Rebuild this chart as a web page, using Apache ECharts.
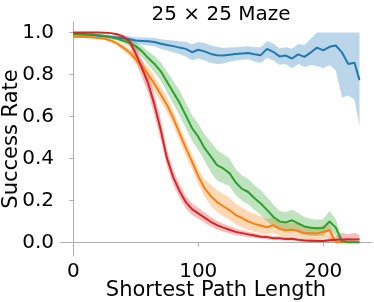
<!DOCTYPE html>
<html><head><meta charset="utf-8">
<script src="https://cdn.jsdelivr.net/npm/echarts@6/dist/echarts.min.js"></script>
<style>html,body{margin:0;padding:0;background:#fff}#c{width:374px;height:302px}</style>
</head><body><div id="c"></div>
<script>
const xs = [0,5,10,15,20,25,30,35,40,45,50,55,60,65,70,75,80,85,90,95,100,105,110,115,120,125,130,135,140,145,150,155,160,165,170,175,180,185,190,195,200,205,210,215,220,225,229];
const xTicks = [0,100,200];
const yTicks = [0,0.2,0.4,0.6,0.8,1.0];

const blueMean = [.993,.992,.99,.988,.985,.982,.979,.976,.973,.968,.962,.96,.958,.955,.946,.94,.935,.928,.922,.906,.918,.91,.898,.892,.89,.894,.898,.9,.902,.896,.892,.922,.908,.886,.89,.876,.896,.884,.905,.928,.915,.932,.938,.905,.85,.856,.773];
const blueLow = [.986,.985,.983,.98,.977,.973,.969,.965,.961,.954,.946,.942,.938,.933,.922,.914,.906,.896,.886,.868,.876,.866,.856,.85,.852,.86,.866,.87,.872,.862,.855,.88,.868,.846,.85,.83,.85,.835,.845,.84,.83,.845,.82,.69,.7,.68,.555];
const blueHigh = [.999,.998,.997,.995,.993,.99,.988,.986,.984,.981,.977,.976,.976,.974,.968,.964,.962,.958,.956,.944,.955,.95,.938,.932,.926,.928,.93,.932,.934,.93,.93,.958,.948,.925,.93,.922,.945,.94,.97,1,1,1,1,1,1,1,1];

const orangeMean = [.98,.98,.978,.977,.974,.97,.962,.948,.928,.905,.872,.838,.8,.755,.705,.655,.592,.52,.45,.385,.315,.258,.22,.192,.172,.154,.13,.116,.1,.088,.08,.072,.082,.065,.058,.06,.055,.044,.043,.042,.05,.058,.002,0,0,0,0];
const orangeLow = [.974,.974,.972,.971,.968,.964,.954,.938,.913,.887,.852,.813,.765,.72,.67,.62,.557,.485,.415,.35,.28,.218,.175,.145,.125,.108,.085,.072,.06,.05,.043,.038,.046,.032,.026,.028,.024,.015,.014,.013,.018,.022,0,0,0,0,0];
const orangeHigh = [.986,.986,.984,.983,.98,.976,.97,.958,.943,.923,.892,.863,.835,.79,.74,.69,.627,.555,.485,.42,.35,.3,.275,.25,.232,.212,.185,.165,.148,.135,.125,.11,.12,.1,.092,.094,.088,.076,.074,.072,.082,.095,.006,0,0,0,0];

const greenMean = [.992,.992,.991,.99,.987,.983,.978,.971,.961,.949,.935,.91,.878,.85,.815,.765,.715,.665,.605,.545,.503,.45,.41,.368,.352,.33,.285,.255,.24,.21,.185,.155,.122,.1,.095,.105,.09,.076,.07,.067,.068,.1,.07,.005,0,0,0];
const greenLow = [.988,.988,.987,.985,.982,.977,.97,.961,.949,.933,.913,.883,.845,.81,.77,.715,.66,.605,.545,.485,.44,.39,.335,.295,.282,.268,.225,.2,.18,.155,.13,.1,.075,.06,.05,.06,.045,.035,.03,.03,.03,.06,.032,0,0,0,0];
const greenHigh = [.996,.996,.995,.994,.992,.989,.985,.979,.971,.963,.955,.935,.91,.888,.858,.813,.77,.722,.665,.607,.565,.515,.478,.44,.42,.4,.348,.318,.302,.272,.248,.215,.18,.15,.145,.155,.14,.12,.112,.108,.11,.15,.11,.02,0,0,0];

const redMean = [1,1,1,1,1,.999,.997,.992,.98,.958,.9,.83,.755,.655,.535,.4,.31,.245,.192,.158,.138,.118,.098,.082,.07,.06,.05,.044,.038,.033,.027,.025,.02,.02,.016,.017,.012,.009,.008,.006,.006,.01,.012,.014,.015,.014,.015];
const redLow = [.998,.998,.998,.998,.998,.996,.993,.985,.968,.94,.865,.785,.71,.605,.485,.36,.275,.212,.162,.13,.112,.093,.075,.061,.051,.042,.034,.03,.026,.022,.017,.015,.011,.011,.008,.009,.005,.002,.001,0,0,0,0,0,0,0,0];
const redHigh = [1,1,1,1,1,1,1,.997,.99,.975,.933,.872,.8,.705,.585,.44,.345,.278,.222,.186,.165,.143,.121,.103,.089,.078,.066,.058,.05,.044,.037,.035,.029,.029,.024,.025,.02,.017,.016,.014,.014,.022,.028,.045,.04,.045,.035];

const FONT = 'DejaVu Sans';
const AX = '#b0b0b0';

function band(low, high, rgba) {
  return {
    type: 'custom', silent: true, z: 1, clip: true,
    data: xs.map((x, i) => [x, low[i], high[i]]),
    encode: { x: 0, y: [1, 2] },
    renderItem: function (params, api) {
      if (params.dataIndexInside !== 0) return;
      const n = params.dataInsideLength;
      const top = [], bot = [];
      for (let j = 0; j < n; j++) {
        top.push(api.coord([api.value(0, j), api.value(2, j)]));
        bot.push(api.coord([api.value(0, j), api.value(1, j)]));
      }
      return { type: 'polygon', shape: { points: top.concat(bot.reverse()) }, style: { fill: rgba } };
    }
  };
}
function line(mean, color) {
  return {
    type: 'line', z: 2, symbol: 'none', showSymbol: false, silent: true,
    data: xs.map((x, i) => [x, mean[i]]),
    lineStyle: { color: color, width: 2 }, itemStyle: { color: color }
  };
}

const chart = echarts.init(document.getElementById('c'), null, { renderer: 'canvas' });
chart.setOption({
  animation: false,
  backgroundColor: '#fff',
  title: { text: '25 × 25 Maze', left: 216, top: 0, textAlign: 'center',
    textStyle: { fontFamily: FONT, fontSize: 20, fontWeight: 'normal', color: '#000' } },
  grid: { left: 60, right: 2, top: 22, bottom: 46, containLabel: false, outerBoundsMode: 'none' },
  xAxis: {
    type: 'value', min: -10.6, max: 239,
    axisLine: { show: true, lineStyle: { color: AX, width: 1 } },
    axisTick: { show: true, length: 4, customValues: xTicks, lineStyle: { color: AX } },
    axisLabel: { customValues: xTicks, fontFamily: FONT, fontSize: 20, color: '#000', margin: 6 },
    splitLine: { show: false },
    name: 'Shortest Path Length', nameLocation: 'middle', nameGap: 24, nameMoveOverlap: false,
    nameTextStyle: { fontFamily: FONT, fontSize: 21, color: '#000' }
  },
  yAxis: {
    type: 'value', min: -0.065, max: 1.05,
    axisLine: { show: true, lineStyle: { color: AX, width: 1 } },
    axisTick: { show: true, length: 4, customValues: yTicks, lineStyle: { color: AX } },
    axisLabel: { customValues: yTicks, fontFamily: FONT, fontSize: 20, color: '#000', margin: 6,
      formatter: v => Number(v).toFixed(1) },
    splitLine: { show: false },
    name: 'Success Rate', nameLocation: 'middle', nameGap: 38, nameMoveOverlap: false,
    nameTextStyle: { fontFamily: FONT, fontSize: 21, color: '#000' }
  },
  series: [
    band(blueLow, blueHigh, 'rgba(31,119,180,0.3)'),
    band(orangeLow, orangeHigh, 'rgba(255,127,14,0.3)'),
    band(greenLow, greenHigh, 'rgba(44,160,44,0.3)'),
    band(redLow, redHigh, 'rgba(214,39,40,0.3)'),
    line(blueMean, '#1f77b4'),
    line(orangeMean, '#ff7f0e'),
    line(greenMean, '#2ca02c'),
    line(redMean, '#d62728')
  ]
});
</script></body></html>
